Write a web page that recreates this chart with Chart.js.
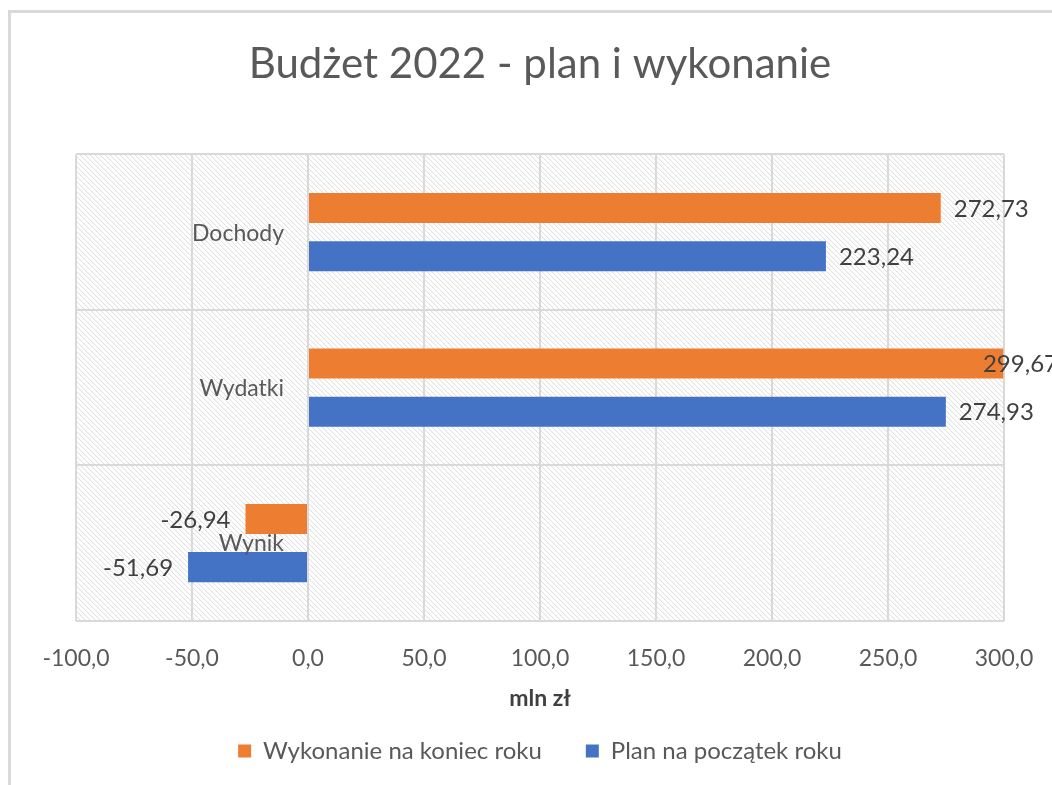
<!DOCTYPE html>
<html lang="pl">
<head>
<meta charset="utf-8">
<title>Budżet 2022 - plan i wykonanie</title>
<script src="https://cdn.jsdelivr.net/npm/chart.js@4/dist/chart.umd.min.js"></script>
<style>
    html, body { margin: 0; padding: 0; background: #fff; overflow: hidden; }
    #frame {
        position: absolute; left: 8px; top: 10px; width: 1100px; height: 820px;
        border-left: 3px solid #d9d9d9; border-top: 3px solid #d9d9d9;
        pointer-events: none;
    }
    #wrap { position: absolute; left: 0; top: 0; width: 1052px; height: 785px; }
</style>
</head>
<body>
<div id="wrap"><canvas id="budgetChart"></canvas></div>
<div id="frame"></div>
<script>
// Data
const categories = ['Dochody', 'Wydatki', 'Wynik'];
const wykonanie = [272.73, 299.67, -26.94];   // Wykonanie na koniec roku
const plan = [223.24, 274.93, -51.69];        // Plan na początek roku
const seriesNames = ['Wykonanie na koniec roku', 'Plan na początek roku'];

// Colours
const ORANGE = '#ED7D31';
const BLUE = '#4472C4';
const GRID = '#d9d9d9';
const TEXT = '#595959';
const FONT = 'Lato, "Open Sans", sans-serif';

const fmt = (v, d) => v.toFixed(d).replace('.', ',');

// Hatched plot background
const hatchPlugin = {
    id: 'hatch',
    beforeDraw(chart) {
        const { ctx, chartArea: a } = chart;
        const h = a.bottom - a.top;
        ctx.save();
        ctx.fillStyle = '#ffffff';
        ctx.fillRect(a.left, a.top, a.right - a.left, h);
        ctx.beginPath();
        ctx.rect(a.left, a.top, a.right - a.left, h);
        ctx.clip();
        ctx.strokeStyle = '#dadada';
        ctx.lineWidth = 1;
        ctx.beginPath();
        for (let x = a.left - h; x < a.right; x += 5) {
            ctx.moveTo(x, a.top);
            ctx.lineTo(x + h, a.bottom);
        }
        ctx.stroke();
        ctx.restore();
    }
};

// Category names sit left of the zero line, like the Excel original
const categoryLabels = {
    id: 'categoryLabels',
    afterDatasetsDraw(chart) {
        const { ctx, scales } = chart;
        const x0 = scales.x.getPixelForValue(0);
        ctx.save();
        ctx.font = '23px ' + FONT;
        ctx.fillStyle = TEXT;
        ctx.textAlign = 'right';
        ctx.textBaseline = 'middle';
        categories.forEach((c, i) => {
            ctx.fillText(c, x0 - 24, scales.y.getPixelForValue(i) + 1);
        });
        ctx.restore();
    }
};

// Value labels at bar ends (pushed back inside when they would run off the frame)
const valueLabels = {
    id: 'valueLabels',
    afterDatasetsDraw(chart) {
        const { ctx, chartArea } = chart;
        const maxRight = chartArea.right + 54;
        ctx.save();
        ctx.font = '24px ' + FONT;
        ctx.fillStyle = '#404040';
        ctx.textBaseline = 'middle';
        chart.data.datasets.forEach((ds, i) => {
            chart.getDatasetMeta(i).data.forEach((bar, j) => {
                const v = ds.data[j];
                const txt = fmt(v, 2);
                if (v >= 0) {
                    const w = ctx.measureText(txt).width;
                    ctx.textAlign = 'left';
                    ctx.fillText(txt, Math.min(bar.x + 13, maxRight - w), bar.y + 1);
                } else {
                    ctx.textAlign = 'right';
                    ctx.fillText(txt, bar.x - 15, bar.y + 1);
                }
            });
        });
        ctx.restore();
    }
};

new Chart(document.getElementById('budgetChart'), {
    type: 'bar',
    data: {
        labels: categories,
        datasets: [
            {
                label: seriesNames[0],
                data: wykonanie,
                backgroundColor: ORANGE,
                categoryPercentage: 0.62,
                barPercentage: 0.625
            },
            {
                label: seriesNames[1],
                data: plan,
                backgroundColor: BLUE,
                categoryPercentage: 0.62,
                barPercentage: 0.625
            }
        ]
    },
    options: {
        indexAxis: 'y',
        responsive: true,
        maintainAspectRatio: false,
        animation: false,
        layout: {
            padding: { left: 76, right: 48, top: 0, bottom: 12 }
        },
        plugins: {
            title: {
                display: true,
                text: 'Budżet 2022 - plan i wykonanie',
                color: TEXT,
                font: { family: FONT, size: 42, weight: 'normal' },
                padding: { top: 39, bottom: 65 }
            },
            legend: {
                position: 'bottom',
                labels: {
                    color: TEXT,
                    font: { family: FONT, size: 24 },
                    boxWidth: 13,
                    boxHeight: 13,
                    padding: 44
                }
            },
            tooltip: { enabled: false }
        },
        scales: {
            x: {
                min: -100,
                max: 300,
                afterFit(scale) {
                    // the edge labels may hang over the layout padding
                    scale.paddingLeft = 0;
                    scale.paddingRight = 0;
                },
                ticks: {
                    stepSize: 50,
                    color: TEXT,
                    font: { family: FONT, size: 23 },
                    padding: 24,
                    callback: v => fmt(v, 1)
                },
                grid: { color: GRID, lineWidth: 2, drawTicks: false },
                border: { display: false },
                title: {
                    display: true,
                    text: 'mln zł',
                    color: '#404040',
                    font: { family: FONT, size: 23, weight: 'bold' },
                    padding: { top: -12, bottom: -17 }
                }
            },
            y: {
                position: { x: 0 },
                ticks: { display: false },
                grid: { color: GRID, lineWidth: 2, drawTicks: false, offset: true },
                border: { display: false }
            }
        }
    },
    plugins: [hatchPlugin, categoryLabels, valueLabels]
});
</script>
</body>
</html>
